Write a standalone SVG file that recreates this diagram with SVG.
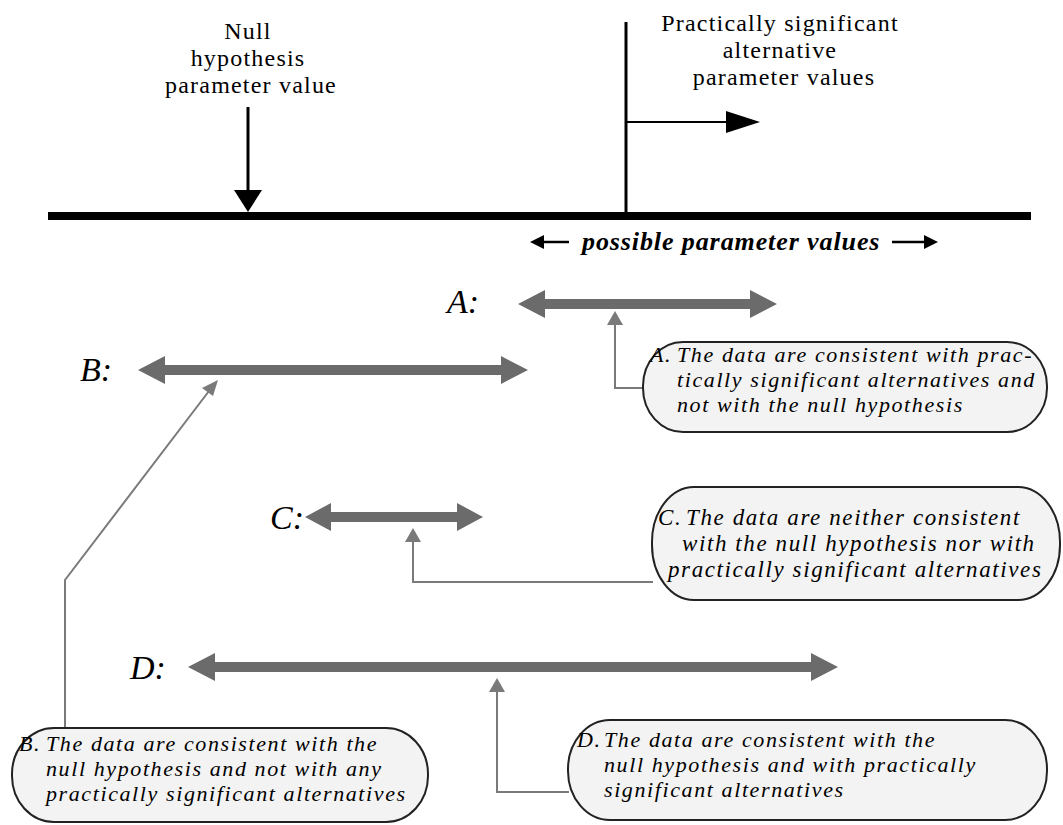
<svg xmlns="http://www.w3.org/2000/svg" width="1063" height="825" viewBox="0 0 1063 825">
<style>
.top{font-family:"Liberation Serif",serif;font-size:24px;letter-spacing:1.2px;fill:#000;text-anchor:middle}
.ppv{font-family:"Liberation Serif",serif;font-size:26px;font-weight:bold;font-style:italic;letter-spacing:0.9px;fill:#000}
.lbl{font-family:"Liberation Serif",serif;font-size:34px;font-style:italic;fill:#000}
.bt{font-family:"Liberation Serif",serif;font-size:22px;font-style:italic;letter-spacing:1.6px;fill:#000}
.btc{font-family:"Liberation Serif",serif;font-size:23px;font-style:italic;letter-spacing:1.6px;fill:#000}
.bubble{fill:#f3f3f3;stroke:#222;stroke-width:2}
.conn{fill:none;stroke:#7a7a7a;stroke-width:2}
.ci{fill:#7a7a7a}
.ga{fill:#6b6b6b}
</style>
<rect width="1063" height="825" fill="#fff"/>
<g id="axis">
<rect x="48" y="212" width="983" height="8" fill="#000"/>
<line x1="626" y1="22" x2="626" y2="213" stroke="#000" stroke-width="3"/>
<line x1="626" y1="122" x2="728" y2="122" stroke="#000" stroke-width="2"/>
<polygon points="726,111 760,122 726,133" fill="#000"/>
</g>
<g id="null">
<text class="top" x="248" y="39">Null</text>
<text class="top" x="248" y="66">hypothesis</text>
<text class="top" x="251" y="93">parameter value</text>
<line x1="248" y1="107" x2="248" y2="192" stroke="#000" stroke-width="3"/>
<polygon points="234,190 262,190 248,212" fill="#000"/>
</g>
<g id="alt">
<text class="top" x="780" y="31">Practically significant</text>
<text class="top" x="780" y="58">alternative</text>
<text class="top" x="784" y="85">parameter values</text>
</g>
<g id="ppv">
<polygon points="530,242 544,235 544,249" fill="#000"/>
<line x1="543" y1="242" x2="569" y2="242" stroke="#000" stroke-width="2.5"/>
<text class="ppv" x="582" y="250">possible parameter values</text>
<line x1="892" y1="242" x2="925" y2="242" stroke="#000" stroke-width="2.5"/>
<polygon points="924,235 938,242 924,249" fill="#000"/>
</g>
<g id="A">
<text class="lbl" x="447" y="313">A:</text>
<polygon class="ga" points="518,304 545,290 545,299 750,299 750,290 777,304 750,318 750,309 545,309 545,318"/>
</g>
<g id="B">
<text class="lbl" x="80" y="381">B:</text>
<polygon class="ga" points="138,370 165,356 165,365 501,365 501,356 528,370 501,384 501,375 165,375 165,384"/>
</g>
<g id="C">
<text class="lbl" x="270" y="529">C:</text>
<polygon class="ga" points="305,517 331,503 331,512 457,512 457,503 483,517 457,531 457,522 331,522 331,531"/>
</g>
<g id="D">
<text class="lbl" x="130" y="679">D:</text>
<polygon class="ga" points="188,667 215,653 215,662 811,662 811,653 838,667 811,681 811,672 215,672 215,681"/>
</g>
<g id="connectors">
<polyline class="conn" points="615,324 615,388 644,388"/>
<polygon class="ci" points="615,311 607,325 623,325"/>
<polyline class="conn" points="209,391 65,580 65,729"/>
<polygon class="ci" points="218,380 202,388 213,396"/>
<polyline class="conn" points="413,541 413,582 653,582"/>
<polygon class="ci" points="413,528 405,542 421,542"/>
<polyline class="conn" points="497,691 497,792 569,792"/>
<polygon class="ci" points="497,678 489,692 505,692"/>
</g>
<g id="bubbleA">
<rect class="bubble" x="643" y="342" width="404" height="90" rx="40" ry="44"/>
<text class="bt" x="650" y="362">A.</text>
<text class="bt" x="677" y="362">The data are consistent with prac-</text>
<text class="bt" x="677" y="387">tically significant alternatives and</text>
<text class="bt" x="677" y="412">not with the null hypothesis</text>
</g>
<g id="bubbleC">
<rect class="bubble" x="652" y="487" width="408" height="113" rx="42" ry="55"/>
<text class="btc" x="658" y="525">C.</text>
<text class="btc" x="686" y="525">The data are neither consistent</text>
<text class="btc" x="682" y="551">with the null hypothesis nor with</text>
<text class="btc" x="668" y="577">practically significant alternatives</text>
</g>
<g id="bubbleB">
<rect class="bubble" x="12" y="728" width="416" height="94" rx="42" ry="46"/>
<text class="bt" x="19" y="751">B.</text>
<text class="bt" x="46" y="751">The data are consistent with the</text>
<text class="bt" x="46" y="776">null hypothesis and not with any</text>
<text class="bt" x="46" y="801">practically significant alternatives</text>
</g>
<g id="bubbleD">
<rect class="bubble" x="568" y="720" width="479" height="100" rx="42" ry="49"/>
<text class="bt" x="577" y="747">D.</text>
<text class="bt" x="604" y="747">The data are consistent with the</text>
<text class="bt" x="604" y="772">null hypothesis and with practically</text>
<text class="bt" x="604" y="797">significant alternatives</text>
</g>
</svg>
